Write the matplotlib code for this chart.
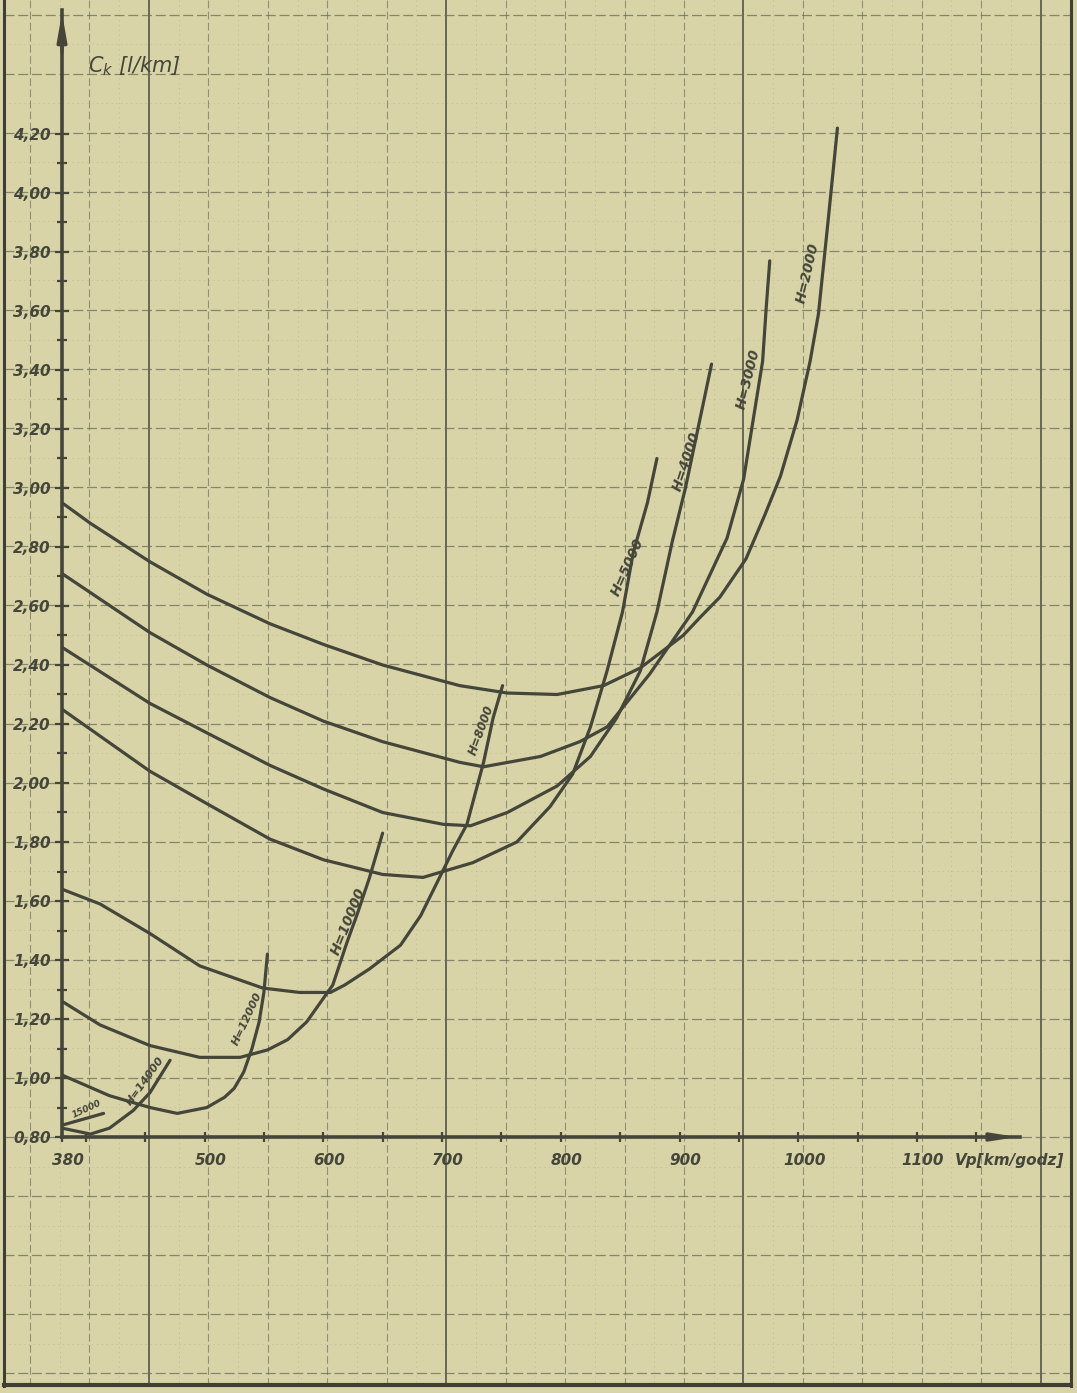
import numpy as np
import matplotlib.pyplot as plt
from matplotlib.transforms import ScaledTranslation

# fuel consumption C_k [l/km] against speed V_p [km/h], one curve per altitude H [m]
v_h2000 = [380, 404, 454, 502, 555, 600, 650, 715, 755, 797, 836, 867, 903, 917, 934, 956, 972, 985, 999, 1010, 1017, 1025, 1033]
c_h2000 = [2.95, 2.88, 2.75, 2.64, 2.54, 2.47, 2.40, 2.33, 2.305, 2.30, 2.33, 2.39, 2.50, 2.56, 2.63, 2.76, 2.91, 3.04, 3.23, 3.43, 3.59, 3.90, 4.22]

v_h3000 = [380, 454, 502, 555, 600, 650, 715, 735, 783, 816, 839, 875, 911, 940, 954, 962, 970, 973, 976]
c_h3000 = [2.71, 2.51, 2.40, 2.29, 2.21, 2.14, 2.07, 2.055, 2.09, 2.14, 2.19, 2.37, 2.58, 2.83, 3.03, 3.23, 3.43, 3.61, 3.77]

v_h4000 = [380, 454, 502, 555, 600, 650, 701, 724, 755, 797, 825, 847, 867, 881, 894, 905, 916, 927]
c_h4000 = [2.46, 2.27, 2.17, 2.06, 1.98, 1.90, 1.86, 1.855, 1.90, 1.99, 2.09, 2.22, 2.38, 2.58, 2.82, 3.00, 3.21, 3.42]

v_h5000 = [380, 454, 502, 555, 600, 650, 684, 726, 763, 791, 810, 825, 839, 852, 861, 873, 881]
c_h5000 = [2.25, 2.04, 1.93, 1.81, 1.74, 1.69, 1.68, 1.73, 1.80, 1.92, 2.03, 2.19, 2.38, 2.58, 2.78, 2.95, 3.10]

v_h8000 = [380, 412, 454, 496, 549, 580, 606, 618, 639, 665, 682, 698, 709, 721, 735, 743, 751]
c_h8000 = [1.64, 1.59, 1.49, 1.38, 1.305, 1.29, 1.29, 1.315, 1.37, 1.45, 1.55, 1.68, 1.77, 1.86, 2.07, 2.22, 2.33]

v_h10000 = [380, 412, 454, 496, 530, 553, 570, 586, 608, 620, 629, 639, 650]
c_h10000 = [1.26, 1.18, 1.11, 1.07, 1.07, 1.095, 1.13, 1.19, 1.315, 1.46, 1.56, 1.68, 1.83]

v_h12000 = [380, 420, 454, 477, 502, 517, 525, 533, 540, 546, 550, 553]
c_h12000 = [1.01, 0.94, 0.90, 0.88, 0.90, 0.935, 0.965, 1.02, 1.10, 1.19, 1.29, 1.42]

v_h14000 = [380, 404, 420, 440, 454, 471]
c_h14000 = [0.83, 0.81, 0.83, 0.89, 0.95, 1.06]

v_h15000 = [380, 415]
c_h15000 = [0.84, 0.88]

curve_labels = ['H=2000', 'H=3000', 'H=4000', 'H=5000', 'H=8000', 'H=10000', 'H=12000', 'H=14000', '15000']
label_v = [1008, 958, 906, 856, 733, 621, 536, 450, 401]
label_c = [3.73, 3.37, 3.09, 2.73, 2.18, 1.53, 1.20, 0.99, 0.895]
label_rot = [77, 76, 72, 66, 70, 68, 65, 54, 25]
label_size = [10, 10, 10, 10, 8.5, 10, 8, 8, 6.5]

y_ticks = np.round(np.arange(0.80, 4.21, 0.20), 2)
x_ticks = [380, 500, 600, 700, 800, 900, 1000, 1100]

paper = '#d8d4a8'
ink = '#45463a'
fnt = ['DejaVu Sans Condensed', 'Liberation Sans Narrow', 'DejaVu Sans']
plt.rcParams['mathtext.default'] = 'regular'

W, H = 1077, 1393
fig = plt.figure(figsize=(W / 100, H / 100), dpi=100, facecolor=paper)

# graph paper in the background (pixel coordinates)
bg = fig.add_axes([0, 0, 1, 1], zorder=0)
bg.set_xlim(0, W)
bg.set_ylim(H, 0)
bg.axis('off')
gx = 30 + 59.45 * np.arange(18)
gy = 14.7 + 59.07 * np.arange(24)
for i, x in enumerate(gx):
    if i % 5 == 2:
        bg.plot([x, x], [0, 1385], color='#55554a', lw=1.2)
    else:
        bg.plot([x, x], [0, 1385], color='#75745e', lw=0.8, ls=(0, (7, 3)), alpha=0.7)
    bg.plot([x + 29.7, x + 29.7], [0, 1385], color='#8a8970', lw=0.5, ls=(0, (2, 5)), alpha=0.35)
for k, y in enumerate(gy):
    if y > 1385:
        continue
    bg.plot([4, 1071], [y, y], color='#6c6b57', lw=0.9, ls=(0, (8, 3)), alpha=0.75)
    bg.plot([4, 1071], [y + 29.5, y + 29.5], color='#8a8970', lw=0.5, ls=(0, (2, 5)), alpha=0.3)
bg.plot([4, 4], [0, 1386], color='#3f3f34', lw=2.2)
bg.plot([1071, 1071], [0, 1386], color='#3f3f34', lw=2.2)
bg.plot([4, 1071], [1385, 1385], color='#3f3f34', lw=3)

# chart axes
x0, x1 = 62, 1020
y0, y1 = 1137, 10
ax = fig.add_axes([x0 / W, 1 - y0 / H, (x1 - x0) / W, (y0 - y1) / H], zorder=2)
ax.set_facecolor('none')
ax.set_xlim(380, 380 + (x1 - x0) / 1.1875)
ax.set_ylim(0.80, 0.80 + (y0 - y1) / 295)
for s in ['top', 'right']:
    ax.spines[s].set_visible(False)
for s in ['left', 'bottom']:
    ax.spines[s].set_linewidth(2.6)
    ax.spines[s].set_color(ink)

ax.annotate('', xy=(0, 1), xytext=(0, 0.96), xycoords='axes fraction',
            arrowprops=dict(arrowstyle='-|>,head_length=1.6,head_width=0.28', color=ink, lw=2.4))
ax.annotate('', xy=(1, 0), xytext=(0.97, 0), xycoords='axes fraction',
            arrowprops=dict(arrowstyle='-|>,head_length=1.4,head_width=0.22', color=ink, lw=2.4))

ax.set_yticks(y_ticks)
ax.set_yticklabels([f'{v:.2f}'.replace('.', ',') for v in y_ticks])
ax.set_yticks(np.arange(0.90, 4.21, 0.20), minor=True)
ax.set_xticks(x_ticks)
ax.set_xticklabels([str(v) for v in x_ticks])
ax.set_xticks(np.arange(400, 1151, 50), minor=True)
ax.tick_params(which='both', direction='inout', color=ink, width=1.6)
ax.tick_params(axis='y', which='major', length=10, pad=3)
ax.tick_params(axis='y', which='minor', length=7)
ax.tick_params(axis='x', which='both', length=7, pad=8)
shift = ScaledTranslation(6 / 100, 0, fig.dpi_scale_trans)
for lab in ax.get_xticklabels():
    lab.set_transform(lab.get_transform() + shift)
for lab in ax.get_xticklabels() + ax.get_yticklabels():
    lab.set_family(fnt)
    lab.set_fontweight('bold')
    lab.set_fontstyle('italic')
    lab.set_fontsize(11)
    lab.set_color(ink)

series = [(v_h2000, c_h2000), (v_h3000, c_h3000), (v_h4000, c_h4000), (v_h5000, c_h5000),
          (v_h8000, c_h8000), (v_h10000, c_h10000), (v_h12000, c_h12000), (v_h14000, c_h14000),
          (v_h15000, c_h15000)]
for v, c in series:
    ax.plot(v, c, color=ink, lw=2.3, solid_capstyle='round', solid_joinstyle='round')

for txt, v, c, r, fs in zip(curve_labels, label_v, label_c, label_rot, label_size):
    ax.text(v, c, txt, rotation=r, rotation_mode='anchor', ha='center', va='center',
            fontsize=fs, fontweight='bold', fontstyle='italic', family=fnt, color=ink)

ax.text(402, 4.43, r'C$_k$ [l/km]', fontsize=15, fontstyle='italic', family=fnt,
        color=ink, va='center', ha='left')
ax.text(1132, 0.72, 'Vp[km/godz]', fontsize=11, fontweight='bold', fontstyle='italic',
        family=fnt, color=ink, va='center', ha='left', clip_on=False)

fig.savefig('out.png', dpi=100, facecolor=paper)
